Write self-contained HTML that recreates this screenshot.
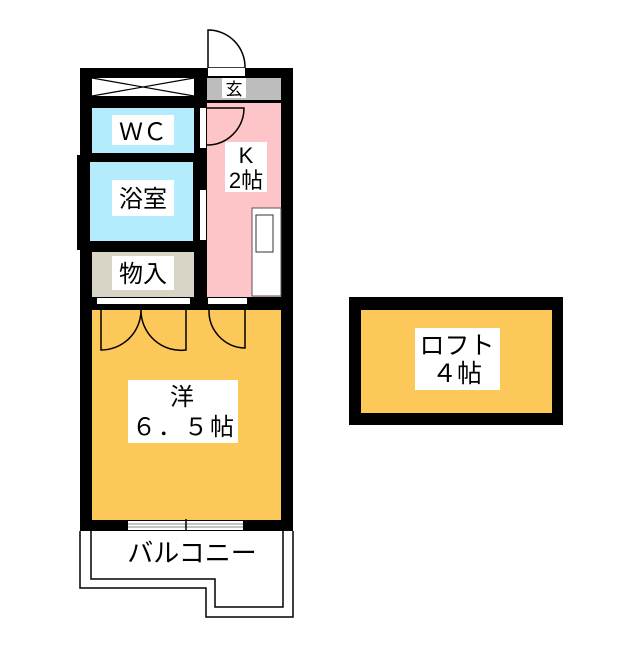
<!DOCTYPE html>
<html><head><meta charset="utf-8"><style>
body{margin:0;background:#fff;}
svg text{font-family:"Liberation Sans","Noto Sans CJK JP",sans-serif;fill:#000;}
</style></head><body>
<svg width="640" height="640" viewBox="0 0 640 640" xmlns="http://www.w3.org/2000/svg">
<path d="M208 30 L208 68 L245 68 A37 37 0 0 0 208 30 Z" fill="#fff" stroke="#000" stroke-width="1.5"/>
<rect x="80" y="68" width="213" height="463" fill="#000"/>
<rect x="77" y="155" width="6" height="95" fill="#000"/>
<rect x="92" y="78" width="102" height="18" fill="#fff"/>
<path d="M92 78 L194 96 M92 96 L194 78" stroke="#000" stroke-width="1.2"/>
<rect x="207" y="78" width="74" height="22" fill="#bdbdbd"/>
<rect x="208" y="68" width="37" height="8" fill="#fff"/>
<rect x="222" y="78" width="24" height="20" fill="#fff"/>
<text x="234" y="95" font-size="17" text-anchor="middle">玄</text>
<rect x="207" y="103" width="74" height="194" fill="#fdc5c7"/>
<path d="M207 108 L244 108 A37 37 0 0 1 207 145" fill="none" stroke="#000" stroke-width="1.5"/>
<rect x="200" y="108" width="6" height="40" fill="#fff"/>
<rect x="200" y="190" width="6" height="50" fill="#fff"/>
<rect x="225" y="142" width="42" height="50" fill="#fff"/>
<text x="246" y="163" font-size="22" text-anchor="middle">K</text>
<text x="246" y="188" font-size="22" text-anchor="middle">2帖</text>
<rect x="252" y="208" width="29" height="88" fill="#fff" stroke="#555" stroke-width="1"/>
<rect x="256" y="215" width="17" height="37" fill="#fff" stroke="#333" stroke-width="1"/>
<rect x="92" y="108" width="102" height="45" fill="#b2ecfd"/>
<rect x="112" y="115" width="62" height="30" fill="#fff"/>
<text x="143" y="140" font-size="24" text-anchor="middle">ＷＣ</text>
<rect x="90" y="162" width="103" height="79" fill="#b2ecfd"/>
<rect x="112" y="180" width="62" height="36" fill="#fff"/>
<text x="143" y="207" font-size="24" text-anchor="middle">浴室</text>
<rect x="92" y="252" width="102" height="45" fill="#d9d5c6"/>
<rect x="112" y="256" width="62" height="34" fill="#fff"/>
<text x="143" y="282" font-size="24" text-anchor="middle">物入</text>
<rect x="97" y="298" width="93" height="6" fill="#fff"/>
<rect x="208" y="298" width="39" height="6" fill="#fff"/>
<rect x="92" y="310" width="189" height="210" fill="#fdc85a"/>
<path d="M101 310 L101 350 A40 40 0 0 0 141 310 A40 40 0 0 0 186 350 L186 310" fill="none" stroke="#000" stroke-width="1.5"/>
<path d="M209 310 A37 37 0 0 0 245 348 L245 310" fill="none" stroke="#000" stroke-width="1.5"/>
<rect x="128" y="380" width="110" height="63" fill="#fff"/>
<text x="182" y="405" font-size="24" text-anchor="middle">洋</text>
<text x="184" y="435" font-size="24" text-anchor="middle" letter-spacing="2">６．５帖</text>
<rect x="128" y="521" width="115" height="9" fill="#fff"/>
<path d="M128 524 L243 524 M128 527 L243 527" stroke="#888" stroke-width="1"/>
<path d="M186 519 L186 532" stroke="#000" stroke-width="1.5"/>
<path d="M80 531 L80 588 L206 588 L206 617 L293 617 L293 531" fill="#fff" stroke="#000" stroke-width="1.5"/>
<path d="M91 531 L91 579 L215 579 L215 607 L283 607 L283 531" fill="none" stroke="#000" stroke-width="1.5"/>
<text x="192" y="562" font-size="26" text-anchor="middle">バルコニー</text>
<rect x="349" y="297" width="214" height="128" fill="#000"/>
<rect x="361" y="310" width="191" height="103" fill="#fdc85a"/>
<rect x="415" y="328" width="85" height="62" fill="#fff"/>
<text x="457" y="354" font-size="25" text-anchor="middle">ロフト</text>
<text x="457" y="382" font-size="25" text-anchor="middle">４帖</text>
</svg>
</body></html>
